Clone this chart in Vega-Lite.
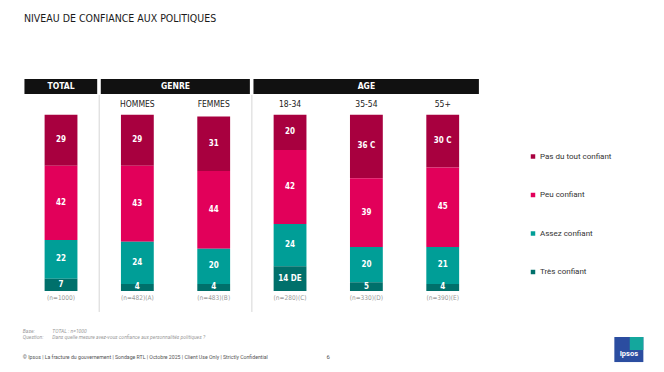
{
  "$schema": "https://vega.github.io/schema/vega-lite/v6.json",
  "width": 664,
  "height": 372,
  "autosize": {"type": "none"},
  "padding": 0,
  "background": "white",
  "config": {"view": {"stroke": null}, "font": "Roboto"},
  "datasets": {
    "bars": [
      {"seg": "TOTAL", "level": "Pas du tout confiant", "rank": 4, "value": 29, "label": "29"},
      {"seg": "TOTAL", "level": "Peu confiant", "rank": 3, "value": 42, "label": "42"},
      {"seg": "TOTAL", "level": "Assez confiant", "rank": 2, "value": 22, "label": "22"},
      {"seg": "TOTAL", "level": "Très confiant", "rank": 1, "value": 7, "label": "7"},
      {"seg": "HOMMES", "level": "Pas du tout confiant", "rank": 4, "value": 29, "label": "29"},
      {"seg": "HOMMES", "level": "Peu confiant", "rank": 3, "value": 43, "label": "43"},
      {"seg": "HOMMES", "level": "Assez confiant", "rank": 2, "value": 24, "label": "24"},
      {"seg": "HOMMES", "level": "Très confiant", "rank": 1, "value": 4, "label": "4"},
      {"seg": "FEMMES", "level": "Pas du tout confiant", "rank": 4, "value": 31, "label": "31"},
      {"seg": "FEMMES", "level": "Peu confiant", "rank": 3, "value": 44, "label": "44"},
      {"seg": "FEMMES", "level": "Assez confiant", "rank": 2, "value": 20, "label": "20"},
      {"seg": "FEMMES", "level": "Très confiant", "rank": 1, "value": 4, "label": "4"},
      {"seg": "18-34", "level": "Pas du tout confiant", "rank": 4, "value": 20, "label": "20"},
      {"seg": "18-34", "level": "Peu confiant", "rank": 3, "value": 42, "label": "42"},
      {"seg": "18-34", "level": "Assez confiant", "rank": 2, "value": 24, "label": "24"},
      {"seg": "18-34", "level": "Très confiant", "rank": 1, "value": 14, "label": "14 DE"},
      {"seg": "35-54", "level": "Pas du tout confiant", "rank": 4, "value": 36, "label": "36 C"},
      {"seg": "35-54", "level": "Peu confiant", "rank": 3, "value": 39, "label": "39"},
      {"seg": "35-54", "level": "Assez confiant", "rank": 2, "value": 20, "label": "20"},
      {"seg": "35-54", "level": "Très confiant", "rank": 1, "value": 5, "label": "5"},
      {"seg": "55+", "level": "Pas du tout confiant", "rank": 4, "value": 30, "label": "30 C"},
      {"seg": "55+", "level": "Peu confiant", "rank": 3, "value": 45, "label": "45"},
      {"seg": "55+", "level": "Assez confiant", "rank": 2, "value": 21, "label": "21"},
      {"seg": "55+", "level": "Très confiant", "rank": 1, "value": 4, "label": "4"}
    ],
    "groups": [
      {"seg": "TOTAL", "head": "", "base": "(n=1000)"},
      {"seg": "HOMMES", "head": "HOMMES", "base": "(n=482)(A)"},
      {"seg": "FEMMES", "head": "FEMMES", "base": "(n=483)(B)"},
      {"seg": "18-34", "head": "18-34", "base": "(n=280)(C)"},
      {"seg": "35-54", "head": "35-54", "base": "(n=330)(D)"},
      {"seg": "55+", "head": "55+", "base": "(n=390)(E)"}
    ],
    "headers": [
      {"group": "TOTAL", "from": "TOTAL", "to": "TOTAL"},
      {"group": "GENRE", "from": "HOMMES", "to": "FEMMES"},
      {"group": "AGE", "from": "18-34", "to": "55+"}
    ],
    "dividers": [{"at": "HOMMES"}, {"at": "18-34"}]
  },
  "layer": [
    {
      "data": {"name": "dividers"},
      "mark": {"type": "rule", "color": "#d6d6d6", "strokeWidth": 1},
      "encoding": {
        "x": {"field": "at", "type": "nominal", "bandPosition": 0, "axis": null,
              "scale": {"type": "band", "domain": ["TOTAL", "HOMMES", "FEMMES", "18-34", "35-54", "55+"], "range": [22.85, 480.9], "paddingInner": 0, "paddingOuter": 0}},
        "y": {"datum": 111.2, "type": "quantitative", "axis": null,
              "scale": {"domain": [-45.94, 165.06], "nice": false, "zero": false}},
        "y2": {"datum": -11.9}
      }
    },
    {
      "data": {"name": "headers"},
      "mark": {"type": "rect", "color": "#111111", "xOffset": 1.6, "x2Offset": -2},
      "encoding": {
        "x": {"field": "from", "type": "nominal", "bandPosition": 0, "axis": null,
              "scale": {"type": "band", "domain": ["TOTAL", "HOMMES", "FEMMES", "18-34", "35-54", "55+"], "range": [22.85, 480.9], "paddingInner": 0, "paddingOuter": 0}},
        "x2": {"field": "to", "bandPosition": 1},
        "y": {"datum": 120.2, "type": "quantitative", "axis": null,
              "scale": {"domain": [-45.94, 165.06], "nice": false, "zero": false}},
        "y2": {"datum": 111.7}
      }
    },
    {
      "data": {"name": "bars"},
      "mark": {"type": "bar", "width": {"band": 0.43}},
      "encoding": {
        "x": {"field": "seg", "type": "nominal", "axis": null,
              "scale": {"type": "band", "domain": ["TOTAL", "HOMMES", "FEMMES", "18-34", "35-54", "55+"], "range": [22.85, 480.9], "paddingInner": 0, "paddingOuter": 0}},
        "y": {"field": "value", "type": "quantitative", "stack": "zero", "axis": null,
              "scale": {"domain": [-45.94, 165.06], "nice": false, "zero": false}},
        "color": {"field": "level", "type": "nominal",
                  "scale": {"domain": ["Pas du tout confiant", "Peu confiant", "Assez confiant", "Très confiant"],
                            "range": ["#A8003F", "#E2005A", "#009E97", "#00706B"]},
                  "legend": {"orient": "none", "legendX": 529, "legendY": 152.5, "title": null,
                             "symbolType": "square", "symbolSize": 20, "symbolStrokeWidth": 0,
                             "labelFontSize": 8, "labelColor": "#333333", "labelFont": "Roboto",
                             "rowPadding": 30.5, "labelOffset": 3}},
        "order": {"field": "rank", "type": "quantitative"}
      }
    },
    {
      "data": {"name": "bars"},
      "mark": {"type": "text", "color": "white", "fontWeight": "bold", "fontSize": 8, "font": "DejaVu Sans Condensed", "baseline": "middle"},
      "encoding": {
        "x": {"field": "seg", "type": "nominal", "axis": null,
              "scale": {"type": "band", "domain": ["TOTAL", "HOMMES", "FEMMES", "18-34", "35-54", "55+"], "range": [22.85, 480.9], "paddingInner": 0, "paddingOuter": 0}},
        "y": {"field": "value", "type": "quantitative", "stack": "zero", "bandPosition": 0.5, "axis": null,
              "scale": {"domain": [-45.94, 165.06], "nice": false, "zero": false}},
        "detail": {"field": "level"},
        "order": {"field": "rank", "type": "quantitative"},
        "text": {"field": "label"}
      }
    },
    {
      "data": {"name": "groups"},
      "mark": {"type": "text", "color": "#999999", "fontSize": 6.5, "font": "DejaVu Sans Condensed", "baseline": "middle"},
      "encoding": {
        "x": {"field": "seg", "type": "nominal", "axis": null,
              "scale": {"type": "band", "domain": ["TOTAL", "HOMMES", "FEMMES", "18-34", "35-54", "55+"], "range": [22.85, 480.9], "paddingInner": 0, "paddingOuter": 0}},
        "y": {"datum": -4.0, "type": "quantitative", "axis": null,
              "scale": {"domain": [-45.94, 165.06], "nice": false, "zero": false}},
        "text": {"field": "base"}
      }
    },
    {
      "data": {"name": "groups"},
      "mark": {"type": "text", "color": "#222222", "fontSize": 8.5, "font": "DejaVu Sans Condensed", "baseline": "middle"},
      "encoding": {
        "x": {"field": "seg", "type": "nominal", "axis": null,
              "scale": {"type": "band", "domain": ["TOTAL", "HOMMES", "FEMMES", "18-34", "35-54", "55+"], "range": [22.85, 480.9], "paddingInner": 0, "paddingOuter": 0}},
        "y": {"datum": 106.1, "type": "quantitative", "axis": null,
              "scale": {"domain": [-45.94, 165.06], "nice": false, "zero": false}},
        "text": {"field": "head"}
      }
    },
    {
      "data": {"values": [{}]},
      "mark": {"type": "text", "color": "white", "fontWeight": "bold", "fontSize": 8.5, "font": "DejaVu Sans Condensed", "baseline": "middle", "text": "TOTAL"},
      "encoding": {
        "x": {"datum": "TOTAL", "type": "nominal", "bandPosition": 0.5, "axis": null,
              "scale": {"type": "band", "domain": ["TOTAL", "HOMMES", "FEMMES", "18-34", "35-54", "55+"], "range": [22.85, 480.9], "paddingInner": 0, "paddingOuter": 0}},
        "y": {"datum": 116.0, "type": "quantitative", "axis": null,
              "scale": {"domain": [-45.94, 165.06], "nice": false, "zero": false}}
      }
    },
    {
      "data": {"values": [{}]},
      "mark": {"type": "text", "color": "white", "fontWeight": "bold", "fontSize": 8.5, "font": "DejaVu Sans Condensed", "baseline": "middle", "text": "GENRE"},
      "encoding": {
        "x": {"datum": "HOMMES", "type": "nominal", "bandPosition": 1, "axis": null,
              "scale": {"type": "band", "domain": ["TOTAL", "HOMMES", "FEMMES", "18-34", "35-54", "55+"], "range": [22.85, 480.9], "paddingInner": 0, "paddingOuter": 0}},
        "y": {"datum": 116.0, "type": "quantitative", "axis": null,
              "scale": {"domain": [-45.94, 165.06], "nice": false, "zero": false}}
      }
    },
    {
      "data": {"values": [{}]},
      "mark": {"type": "text", "color": "white", "fontWeight": "bold", "fontSize": 8.5, "font": "DejaVu Sans Condensed", "baseline": "middle", "text": "AGE"},
      "encoding": {
        "x": {"datum": "35-54", "type": "nominal", "bandPosition": 0.5, "axis": null,
              "scale": {"type": "band", "domain": ["TOTAL", "HOMMES", "FEMMES", "18-34", "35-54", "55+"], "range": [22.85, 480.9], "paddingInner": 0, "paddingOuter": 0}},
        "y": {"datum": 116.0, "type": "quantitative", "axis": null,
              "scale": {"domain": [-45.94, 165.06], "nice": false, "zero": false}}
      }
    },
    {
      "data": {"values": [{}]},
      "mark": {"type": "text", "color": "#1a1a1a", "fontSize": 10.5, "font": "DejaVu Sans Condensed", "fontWeight": 500, "align": "left", "baseline": "middle", "text": "NIVEAU DE CONFIANCE AUX POLITIQUES"},
      "encoding": {
        "x": {"datum": "TOTAL", "type": "nominal", "bandPosition": 0.015, "axis": null,
              "scale": {"type": "band", "domain": ["TOTAL", "HOMMES", "FEMMES", "18-34", "35-54", "55+"], "range": [22.85, 480.9], "paddingInner": 0, "paddingOuter": 0}},
        "y": {"datum": 154.3, "type": "quantitative", "axis": null,
              "scale": {"domain": [-45.94, 165.06], "nice": false, "zero": false}}
      }
    },
    {
      "data": {"values": [{}]},
      "mark": {"type": "text", "color": "#9a9a9a", "fontSize": 5, "fontStyle": "italic", "align": "left", "baseline": "middle", "text": "Base:"},
      "encoding": {
        "x": {"datum": "TOTAL", "type": "nominal", "bandPosition": 0, "axis": null,
              "scale": {"type": "band", "domain": ["TOTAL", "HOMMES", "FEMMES", "18-34", "35-54", "55+"], "range": [22.85, 480.9], "paddingInner": 0, "paddingOuter": 0}},
        "y": {"datum": -22.5, "type": "quantitative", "axis": null,
              "scale": {"domain": [-45.94, 165.06], "nice": false, "zero": false}}
      }
    },
    {
      "data": {"values": [{}]},
      "mark": {"type": "text", "color": "#9a9a9a", "fontSize": 5, "fontStyle": "italic", "align": "left", "baseline": "middle", "text": "TOTAL : n=1000"},
      "encoding": {
        "x": {"datum": "TOTAL", "type": "nominal", "bandPosition": 0.386, "axis": null,
              "scale": {"type": "band", "domain": ["TOTAL", "HOMMES", "FEMMES", "18-34", "35-54", "55+"], "range": [22.85, 480.9], "paddingInner": 0, "paddingOuter": 0}},
        "y": {"datum": -22.5, "type": "quantitative", "axis": null,
              "scale": {"domain": [-45.94, 165.06], "nice": false, "zero": false}}
      }
    },
    {
      "data": {"values": [{}]},
      "mark": {"type": "text", "color": "#9a9a9a", "fontSize": 5, "fontStyle": "italic", "align": "left", "baseline": "middle", "text": "Question:"},
      "encoding": {
        "x": {"datum": "TOTAL", "type": "nominal", "bandPosition": 0, "axis": null,
              "scale": {"type": "band", "domain": ["TOTAL", "HOMMES", "FEMMES", "18-34", "35-54", "55+"], "range": [22.85, 480.9], "paddingInner": 0, "paddingOuter": 0}},
        "y": {"datum": -26.3, "type": "quantitative", "axis": null,
              "scale": {"domain": [-45.94, 165.06], "nice": false, "zero": false}}
      }
    },
    {
      "data": {"values": [{}]},
      "mark": {"type": "text", "color": "#9a9a9a", "fontSize": 5, "fontStyle": "italic", "align": "left", "baseline": "middle", "text": "Dans quelle mesure avez-vous confiance aux personnalités politiques ?"},
      "encoding": {
        "x": {"datum": "TOTAL", "type": "nominal", "bandPosition": 0.386, "axis": null,
              "scale": {"type": "band", "domain": ["TOTAL", "HOMMES", "FEMMES", "18-34", "35-54", "55+"], "range": [22.85, 480.9], "paddingInner": 0, "paddingOuter": 0}},
        "y": {"datum": -26.3, "type": "quantitative", "axis": null,
              "scale": {"domain": [-45.94, 165.06], "nice": false, "zero": false}}
      }
    },
    {
      "data": {"values": [{}]},
      "mark": {"type": "text", "color": "#555555", "fontSize": 5.2, "align": "left", "baseline": "middle", "text": "© Ipsos | La fracture du gouvernement | Sondage RTL | Octobre 2025 | Client Use Only | Strictly Confidential"},
      "encoding": {
        "x": {"datum": "TOTAL", "type": "nominal", "bandPosition": 0, "axis": null,
              "scale": {"type": "band", "domain": ["TOTAL", "HOMMES", "FEMMES", "18-34", "35-54", "55+"], "range": [22.85, 480.9], "paddingInner": 0, "paddingOuter": 0}},
        "y": {"datum": -37.6, "type": "quantitative", "axis": null,
              "scale": {"domain": [-45.94, 165.06], "nice": false, "zero": false}}
      }
    },
    {
      "data": {"values": [{}]},
      "mark": {"type": "text", "color": "#555555", "fontSize": 6, "align": "center", "baseline": "middle", "text": "6"},
      "encoding": {
        "x": {"datum": "35-54", "type": "nominal", "bandPosition": 0, "axis": null,
              "scale": {"type": "band", "domain": ["TOTAL", "HOMMES", "FEMMES", "18-34", "35-54", "55+"], "range": [22.85, 480.9], "paddingInner": 0, "paddingOuter": 0}},
        "y": {"datum": -37.6, "type": "quantitative", "axis": null,
              "scale": {"domain": [-45.94, 165.06], "nice": false, "zero": false}}
      }
    },
    {
      "data": {"values": [{}]},
      "mark": {"type": "rect", "color": "#2B4DA0"},
      "encoding": {
        "x": {"datum": "55+", "type": "nominal", "bandPosition": 2.748, "axis": null,
              "scale": {"type": "band", "domain": ["TOTAL", "HOMMES", "FEMMES", "18-34", "35-54", "55+"], "range": [22.85, 480.9], "paddingInner": 0, "paddingOuter": 0}},
        "x2": {"datum": "55+", "bandPosition": 3.128},
        "y": {"datum": -26.1, "type": "quantitative", "axis": null,
              "scale": {"domain": [-45.94, 165.06], "nice": false, "zero": false}},
        "y2": {"datum": -40.3}
      }
    },
    {
      "data": {"values": [{}]},
      "mark": {"type": "rect", "color": "#14A79D"},
      "encoding": {
        "x": {"datum": "55+", "type": "nominal", "bandPosition": 2.95, "axis": null,
              "scale": {"type": "band", "domain": ["TOTAL", "HOMMES", "FEMMES", "18-34", "35-54", "55+"], "range": [22.85, 480.9], "paddingInner": 0, "paddingOuter": 0}},
        "x2": {"datum": "55+", "bandPosition": 3.128},
        "y": {"datum": -26.1, "type": "quantitative", "axis": null,
              "scale": {"domain": [-45.94, 165.06], "nice": false, "zero": false}},
        "y2": {"datum": -33.5}
      }
    },
    {
      "data": {"values": [{}]},
      "mark": {"type": "text", "color": "white", "fontSize": 7.5, "fontWeight": "bold", "align": "center", "baseline": "middle", "text": "Ipsos"},
      "encoding": {
        "x": {"datum": "55+", "type": "nominal", "bandPosition": 2.938, "axis": null,
              "scale": {"type": "band", "domain": ["TOTAL", "HOMMES", "FEMMES", "18-34", "35-54", "55+"], "range": [22.85, 480.9], "paddingInner": 0, "paddingOuter": 0}},
        "y": {"datum": -36.0, "type": "quantitative", "axis": null,
              "scale": {"domain": [-45.94, 165.06], "nice": false, "zero": false}}
      }
    }
  ]
}
